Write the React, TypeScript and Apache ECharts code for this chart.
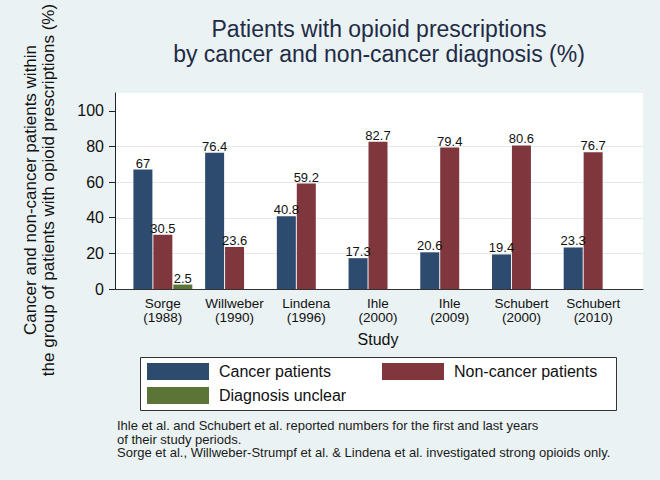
import React, { useEffect, useRef } from "react";
import * as echarts from "echarts";

const categories = [
  "Sorge\n(1988)",
  "Willweber\n(1990)",
  "Lindena\n(1996)",
  "Ihle\n(2000)",
  "Ihle\n(2009)",
  "Schubert\n(2000)",
  "Schubert\n(2010)",
];
const cancerPatients = [67, 76.4, 40.8, 17.3, 20.6, 19.4, 23.3];
const nonCancerPatients = [30.5, 23.6, 59.2, 82.7, 79.4, 80.6, 76.7];
const diagnosisUnclear = [2.5, null, null, null, null, null, null];
const yTickValues = [0, 20, 40, 60, 80, 100];
const seriesNames = ["Cancer patients", "Non-cancer patients", "Diagnosis unclear"];
const titleText = "Patients with opioid prescriptions\nby cancer and non-cancer diagnosis (%)";
const yTitle = "Cancer and non-cancer patients within\nthe group of patients with opioid prescriptions (%)";
const notes = [
  "Ihle et al. and Schubert et al. reported numbers for the first and last years",
  "of their study periods.",
  "Sorge et al., Willweber-Strumpf et al. & Lindena et al. investigated strong opioids only.",
];

const FONT = "Liberation Sans, Arial, Helvetica, sans-serif";
const COLORS = ["#2D4A6F", "#7F363D", "#5A7536"];

export default function App() {
  const ref = useRef<HTMLDivElement>(null);
  useEffect(() => {
    if (!ref.current) return;
    const chart = echarts.init(ref.current, undefined, { renderer: "svg" });
    const barLabel = {
      show: true,
      position: "top",
      distance: 0,
      color: "#111",
      fontSize: 13,
      fontFamily: FONT,
    };
    const legendCommon = {
      itemWidth: 62,
      itemHeight: 17,
      icon: "rect",
      selectedMode: false,
      textStyle: { fontSize: 16, color: "#111", fontFamily: FONT, padding: [0, 0, 0, 5] },
      padding: 0,
    };
    chart.setOption({
      animation: false,
      backgroundColor: "#EAF2F3",
      textStyle: { fontFamily: FONT },
      title: {
        text: titleText,
        left: 379,
        top: 17,
        padding: 0,
        textAlign: "center",
        textStyle: {
          fontSize: 23,
          lineHeight: 24.5,
          fontWeight: "normal",
          color: "#222B45",
          fontFamily: FONT,
        },
      },
      legend: [
        { ...legendCommon, data: [seriesNames[0]], left: 147, top: 363 },
        { ...legendCommon, data: [seriesNames[1]], left: 382, top: 363 },
        { ...legendCommon, data: [seriesNames[2]], left: 147, top: 387 },
      ],
      grid: [
        { left: 115, right: 17, top: 93, bottom: 191, show: true, backgroundColor: "#ffffff", borderWidth: 0 },
        { left: 127, width: 502, top: 93, bottom: 191 },
        { left: 115, right: 17, top: 146.5, bottom: 191 },
      ],
      xAxis: [
        {
          gridIndex: 0,
          type: "value",
          min: 0,
          max: 1,
          axisLine: { show: true, onZero: false, lineStyle: { color: "#333", width: 1 } },
          axisTick: { show: false },
          axisLabel: { show: false },
          splitLine: { show: false },
        },
        {
          gridIndex: 1,
          type: "category",
          data: categories,
          name: "Study",
          nameLocation: "middle",
          nameGap: 42,
          nameTextStyle: { fontSize: 16, color: "#111", fontFamily: FONT },
          axisLine: { show: false },
          axisTick: { show: false },
          axisLabel: {
            interval: 0,
            margin: 8,
            fontSize: 13.5,
            lineHeight: 13.5,
            color: "#111",
            fontFamily: FONT,
          },
        },
        {
          gridIndex: 2,
          type: "value",
          show: false,
        },
      ],
      yAxis: [
        {
          gridIndex: 0,
          type: "value",
          min: 0,
          max: 110,
          interval: 20,
          axisLine: { show: true, lineStyle: { color: "#222", width: 1 } },
          axisTick: { show: true, length: 6, customValues: yTickValues, lineStyle: { color: "#222" } },
          axisLabel: {
            customValues: yTickValues,
            margin: 11,
            fontSize: 16,
            color: "#111",
            fontFamily: FONT,
          },
          splitLine: { show: false },
        },
        {
          gridIndex: 1,
          type: "value",
          min: 0,
          max: 110,
          show: false,
        },
        {
          gridIndex: 2,
          type: "value",
          min: 0,
          max: 80,
          interval: 20,
          axisLine: { show: false },
          axisTick: { show: false },
          axisLabel: { show: false },
          splitLine: { show: true, lineStyle: { color: "#E4EAEC", width: 1 } },
        },
      ],
      series: [
        {
          name: seriesNames[0],
          type: "bar",
          xAxisIndex: 1,
          yAxisIndex: 1,
          data: cancerPatients,
          barWidth: 19,
          barGap: "5%",
          itemStyle: { color: COLORS[0] },
          label: barLabel,
          z: 3,
        },
        {
          name: seriesNames[1],
          type: "bar",
          xAxisIndex: 1,
          yAxisIndex: 1,
          data: nonCancerPatients,
          barWidth: 19,
          barGap: "5%",
          itemStyle: { color: COLORS[1] },
          label: barLabel,
          z: 3,
        },
        {
          name: seriesNames[2],
          type: "bar",
          xAxisIndex: 1,
          yAxisIndex: 1,
          data: diagnosisUnclear,
          barWidth: 19,
          barGap: "5%",
          itemStyle: { color: COLORS[2] },
          label: barLabel,
          z: 3,
        },
      ],
      graphic: [
        {
          type: "text",
          x: 39.5,
          y: 190,
          rotation: Math.PI / 2,
          style: {
            text: yTitle,
            fontSize: 17,
            lineHeight: 17.5,
            fill: "#111",
            fontFamily: FONT,
            align: "center",
            verticalAlign: "middle",
          },
        },
        {
          type: "rect",
          z: 1,
          shape: { x: 140.5, y: 357.5, width: 476, height: 53 },
          style: { fill: "#ffffff", stroke: "#333", lineWidth: 1 },
        },
        ...notes.map((t, i) => ({
          type: "text",
          x: 117,
          y: [425.4, 439.1, 452.8][i],
          style: {
            text: t,
            fontSize: 13,
            lineHeight: 13,
            fill: "#1a1a1a",
            fontFamily: FONT,
            align: "left",
            verticalAlign: "middle",
          },
        })),
      ],
    });
    return () => chart.dispose();
  }, []);
  return (
    <div
      ref={ref}
      style={{ position: "fixed", left: 0, top: 0, width: 660, height: 480 }}
    />
  );
}
